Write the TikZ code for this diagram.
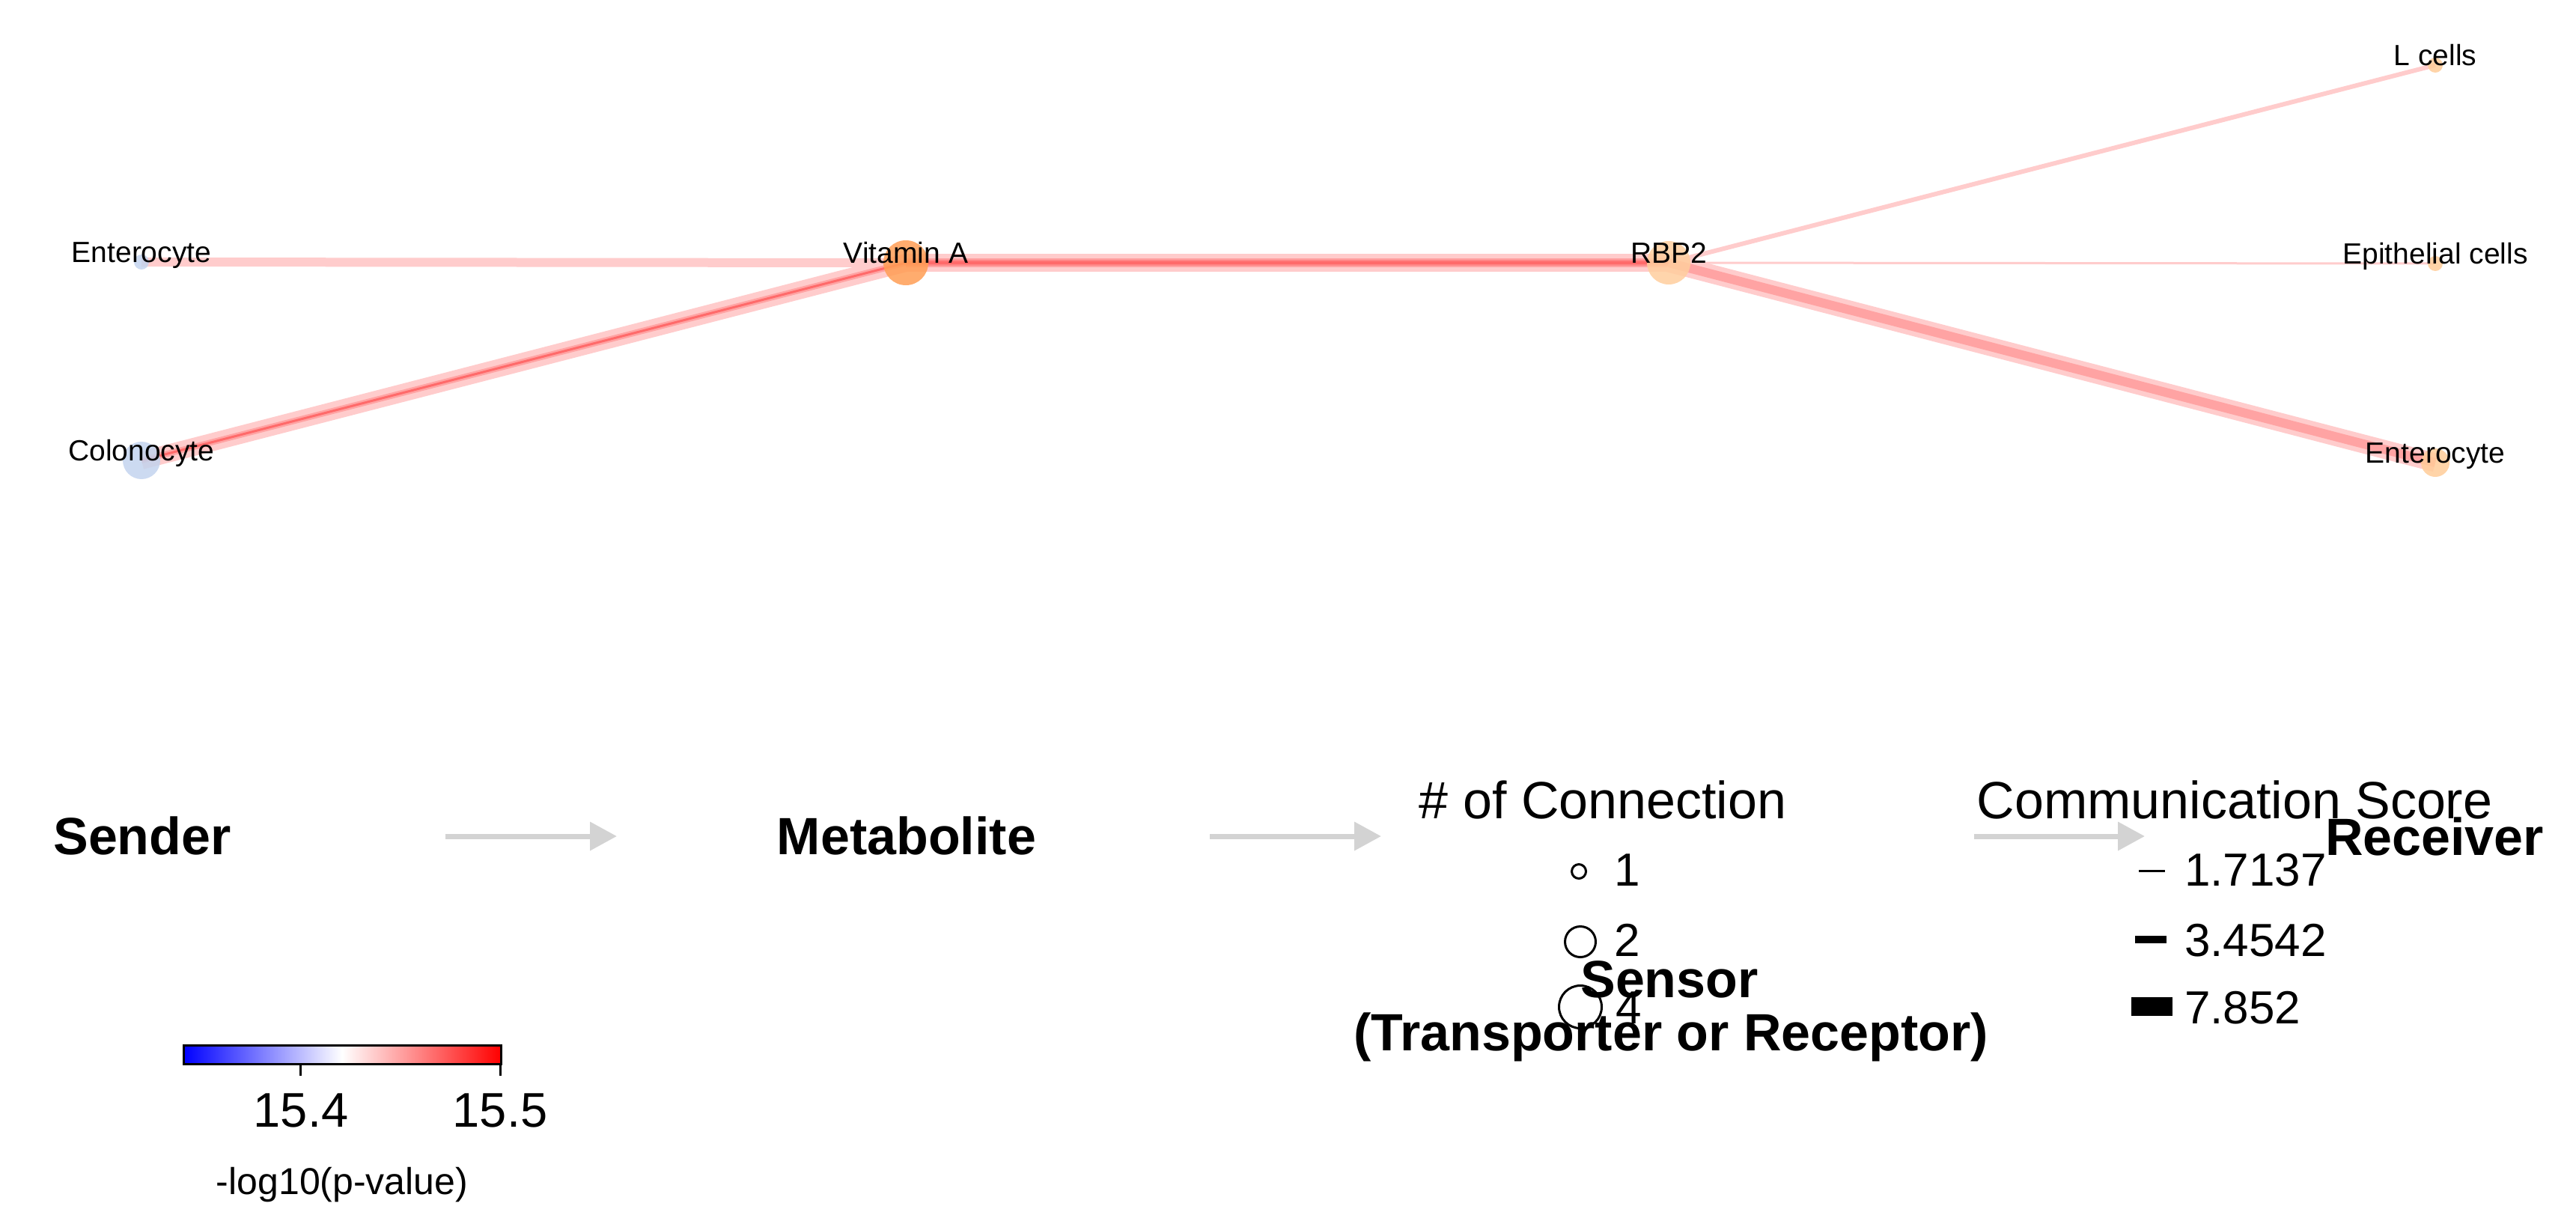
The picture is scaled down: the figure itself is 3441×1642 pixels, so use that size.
\documentclass[tikz,border=0pt]{standalone}
\usepackage{fontspec}
\setmainfont{Liberation Sans}
\usetikzlibrary{arrows.meta}
\definecolor{sendblue}{HTML}{C3D4EE}
\definecolor{metaorange}{HTML}{FF9E55}
\definecolor{sensepeach}{HTML}{FFCE9E}
\definecolor{recvpeach}{HTML}{FFCC99}
\definecolor{edgeout}{HTML}{FFCCCC}
\definecolor{edgemid}{HTML}{FFA3A3}
\definecolor{edgein}{HTML}{FF8585}
\definecolor{edgecore}{HTML}{FF6A6A}
\definecolor{flowgray}{HTML}{D3D3D3}
\begin{document}
\begin{tikzpicture}[x=1pt,y=-1pt,
  dot/.style={circle, inner sep=0pt, outer sep=0pt, draw=none, fill opacity=0.85},
  sendnode/.style={dot, fill=sendblue},
  metanode/.style={dot, fill=metaorange},
  sensnode/.style={dot, fill=sensepeach},
  recvnode/.style={dot, fill=recvpeach},
  lbl/.style={inner sep=0pt, anchor=base, font=\fontsize{39}{47}\selectfont},
  hdr/.style={inner sep=0pt, anchor=base, font=\fontsize{70}{84}\selectfont\bfseries},
  ttl/.style={inner sep=0pt, anchor=base, font=\fontsize{70}{84}\selectfont},
  num/.style={inner sep=0pt, anchor=base west, font=\fontsize{62}{74}\selectfont},
  cbnum/.style={inner sep=0pt, anchor=base, font=\fontsize{65}{78}\selectfont},
  flow/.style={draw=flowgray, line width=7pt, -{Triangle[length=36pt,width=37pt]}},
  legcirc/.style={circle, draw=black, line width=3pt, inner sep=0pt, fill=none},
  legbar/.style={rectangle, fill=black, inner sep=0pt, outer sep=0pt, draw=none},
  edge/.style={line cap=butt}
]
\useasboundingbox (0,0) rectangle (3441,1642);

% network node positions
\coordinate (ent1) at (189,350);
\coordinate (colo) at (189,615);
\coordinate (vita) at (1210,351);
\coordinate (rbp2) at (2229,351);
\coordinate (lcel) at (3253,87);
\coordinate (epit) at (3253,352);
\coordinate (ent2) at (3253,618);

% edges (behind nodes)
\draw[edge, edgeout, line width=12pt] (ent1) -- (vita);
\draw[edge, edgeout, line width=24pt] (colo) -- (vita);
\draw[edge, edgemid, line width=8pt] (colo) -- (vita);
\draw[edge, edgecore, line width=3pt] (colo) -- (vita);
\draw[edge, edgeout, line width=24pt] (vita) -- (rbp2);
\draw[edge, edgemid, line width=12pt] (vita) -- (rbp2);
\draw[edge, edgein, line width=8pt] (vita) -- (rbp2);
\draw[edge, edgecore, line width=4.5pt] (vita) -- (rbp2);
\draw[edge, edgeout, line width=6pt] (rbp2) -- (lcel);
\draw[edge, edgeout, line width=3pt] (rbp2) -- (epit);
\draw[edge, edgeout, line width=25pt] (rbp2) -- (ent2);
\draw[edge, edgemid, line width=12pt] (rbp2) -- (ent2);

% nodes on top
\node[sendnode, minimum size=20pt] (ent1n) at (ent1) {};
\node[sendnode, minimum size=50pt] (colon) at (colo) {};
\node[metanode, minimum size=60pt] (vitan) at (vita) {};
\node[sensnode, minimum size=58pt] (rbp2n) at (rbp2) {};
\node[recvnode, minimum size=20pt] (lceln) at (lcel) {};
\node[recvnode, minimum size=20pt] (epitn) at (epit) {};
\node[recvnode, minimum size=38pt] (ent2n) at (ent2) {};

% labels
\node[lbl] (ent1l) at (ent1) {Enterocyte};
\node[lbl] (colol) at (colo) {Colonocyte};
\node[lbl] (vital) at (vita) {Vitamin A};
\node[lbl] (rbp2l) at (rbp2) {RBP2};
\node[lbl] (lcell) at (lcel) {L cells};
\node[lbl] (epitl) at (epit) {Epithelial cells};
\node[lbl] (ent2l) at (ent2) {Enterocyte};

% flow headers
\node[hdr] (hsend) at (190,1141) {Sender};
\node[hdr] (hmeta) at (1211,1141) {Metabolite};
\node[hdr] (hsens) at (2230,1332) {Sensor};
\node[hdr] (hsens2) at (2232,1403) {(Transporter or Receptor)};
\node[hdr] (hrecv) at (3252,1142) {Receiver};

\coordinate (a1s) at (595,1117);
\coordinate (a1e) at (824,1117);
\coordinate (a2s) at (1616,1117);
\coordinate (a2e) at (1845,1117);
\coordinate (a3s) at (2637,1117);
\coordinate (a3e) at (2865,1117);
\draw[flow] (a1s) -- (a1e);
\draw[flow] (a2s) -- (a2e);
\draw[flow] (a3s) -- (a3e);

% connection legend
\node[ttl] (tconn) at (2141,1093) {\# of Connection};
\node[legcirc, minimum size=19pt] (lc1) at (2109,1164) {};
\node[num] (lc1t) at (2156,1183) {1};
\node[legcirc, minimum size=41pt] (lc2) at (2111,1258) {};
\node[num] (lc2t) at (2156,1277) {2};
\node[legcirc, minimum size=57pt] (lc4) at (2111,1345) {};
\node[num] (lc4t) at (2158,1367) {4};

% communication score legend
\node[ttl] (tcomm) at (2985,1093) {Communication Score};
\node[legbar, minimum width=35pt, minimum height=3pt] (lb1) at (2874.5,1163) {};
\node[num] (lb1t) at (2918,1183) {1.7137};
\node[legbar, minimum width=42pt, minimum height=10pt] (lb2) at (2873,1255) {};
\node[num] (lb2t) at (2918,1277) {3.4542};
\node[legbar, minimum width=55pt, minimum height=25pt] (lb3) at (2874.5,1344.5) {};
\node[num] (lb3t) at (2918,1367) {7.852};

% colour bar
\shade[left color=blue, right color=red, middle color=white] (245,1396) rectangle (669,1421);
\draw[line width=3pt] (245,1396) rectangle (669,1421);
\coordinate (t1a) at (401,1421);
\coordinate (t1b) at (401,1437);
\coordinate (t2a) at (668,1421);
\coordinate (t2b) at (668,1437);
\draw[line width=3pt] (t1a) -- (t1b);
\draw[line width=3pt] (t2a) -- (t2b);
\node[cbnum] (cb1) at (402,1505) {15.4};
\node[cbnum] (cb2) at (668,1505) {15.5};
\node[inner sep=0pt, anchor=base, font=\fontsize{50}{60}\selectfont] (cbt) at (457,1595) {-log10(p-value)};
\end{tikzpicture}
\end{document}
